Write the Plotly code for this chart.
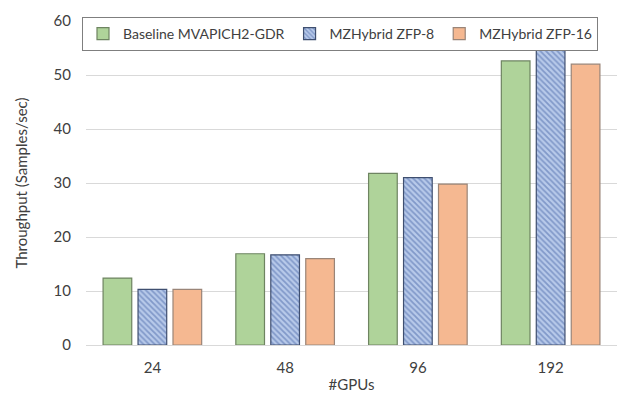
import plotly.graph_objects as go

gpus = ["24", "48", "96", "192"]
baseline = [12.4, 16.9, 31.8, 52.6]
zfp8 = [10.3, 16.7, 31.0, 55.0]
zfp16 = [10.3, 16.0, 29.8, 52.0]
y_ticks = [0, 10, 20, 30, 40, 50, 60]

FONT = "Lato"
TXT = "#404040"

fig = go.Figure()
fig.add_trace(go.Bar(
    x=gpus, y=baseline, name="Baseline MVAPICH2-GDR",
    marker=dict(color="#AFD39A", line=dict(color="#6E8461", width=1.2)),
))
fig.add_trace(go.Bar(
    x=gpus, y=zfp8, name="MZHybrid ZFP-8",
    marker=dict(color="#B4C7E7",
                pattern=dict(shape="\\", fgcolor="#4A67A8", bgcolor="#B8CAEA", size=4, solidity=0.45),
                line=dict(color="#3F4F70", width=1.2)),
))
fig.add_trace(go.Bar(
    x=gpus, y=zfp16, name="MZHybrid ZFP-16",
    marker=dict(color="#F5B891", line=dict(color="#9A8578", width=1.2)),
))

fig.update_layout(
    width=624, height=409,
    margin=dict(l=86, r=7, t=21, b=64, pad=0, autoexpand=False),
    paper_bgcolor="white", plot_bgcolor="white",
    barmode="group", bargap=0.21, bargroupgap=0.18,
    font=dict(family=FONT, size=15, color=TXT),
    showlegend=True,
    legend=dict(
        orientation="h", x=-4/531, xanchor="left", y=1.0 + 4/324, yanchor="top",
        bordercolor="#7F7F7F", borderwidth=1, bgcolor="white",
        font=dict(family=FONT, size=14, color=TXT),
        itemwidth=30, entrywidth=0,
        traceorder="normal",
    ),
    xaxis=dict(
        showline=True, linecolor="#D9D9D9", linewidth=1,
        ticks="", ticklabelstandoff=9,
        tickfont=dict(family=FONT, size=15, color=TXT),
        title=dict(text="#GPUs", font=dict(family=FONT, size=15, color=TXT), standoff=4),
    ),
    yaxis=dict(
        range=[0, 60], tickvals=y_ticks,
        showgrid=True, gridcolor="#D9D9D9", gridwidth=1,
        zeroline=False, showline=False, ticks="", ticklabelstandoff=14,
        tickfont=dict(family=FONT, size=15, color=TXT),
        title=dict(text="Throughput (Samples/sec)", font=dict(family=FONT, size=15, color=TXT), standoff=22),
    ),
)

fig.write_html("out.html")
